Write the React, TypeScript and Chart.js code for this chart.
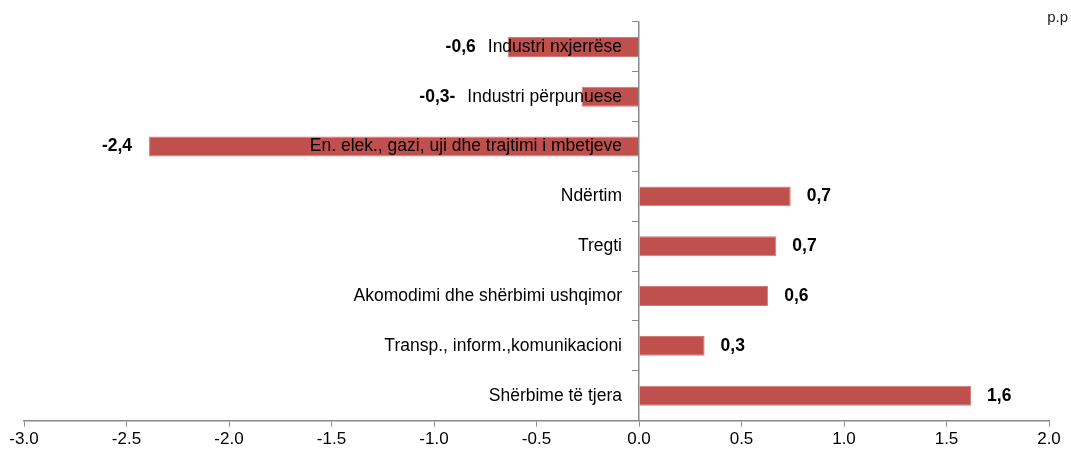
import React, { useEffect, useRef } from 'react';
import { Chart, registerables } from 'chart.js';

Chart.register(...registerables);

const categories = [
  'Industri nxjerrëse',
  'Industri përpunuese',
  'En. elek., gazi, uji dhe trajtimi i mbetjeve',
  'Ndërtim',
  'Tregti',
  'Akomodimi dhe shërbimi ushqimor',
  'Transp., inform.,komunikacioni',
  'Shërbime të tjera',
];
const values = [-0.64, -0.28, -2.39, 0.74, 0.67, 0.63, 0.32, 1.62];
const valueLabels = ['-0,6', '-0,3-', '-2,4', '0,7', '0,7', '0,6', '0,3', '1,6'];
const xMin = -3;
const xMax = 2;
const xStep = 0.5;
const unitLabel = 'p.p';

const FONT = "'Liberation Sans', Arial, sans-serif";
const BAR_COLOR = '#C0504D';
const AXIS_COLOR = '#8a8a8a';
const Y_TICK_LEN = 6;
const Y_LABEL_GAP = 17;
const Y_FONT_SIZE = 17.5;

const labelPlugin = {
  id: 'labels',
  afterDatasetsDraw(chart: any) {
    const ctx = chart.ctx;
    const meta = chart.getDatasetMeta(0);
    const xScale = chart.scales.x;
    const yScale = chart.scales.y;
    const zeroPx = xScale.getPixelForValue(0);
    ctx.save();
    // category labels (on top of the bars, right-aligned at the zero axis)
    ctx.font = `${Y_FONT_SIZE}px ${FONT}`;
    ctx.fillStyle = '#000';
    ctx.textBaseline = 'middle';
    ctx.textAlign = 'right';
    const catWidths: number[] = [];
    categories.forEach((c, i) => {
      catWidths.push(ctx.measureText(c).width);
      ctx.fillText(c, zeroPx - Y_LABEL_GAP, yScale.getPixelForTick(i));
    });
    // value labels
    ctx.font = `bold 17.5px ${FONT}`;
    meta.data.forEach((bar: any, i: number) => {
      const v = values[i];
      const y = bar.y;
      if (v >= 0) {
        ctx.textAlign = 'left';
        ctx.fillText(valueLabels[i], bar.x + 16, y);
      } else {
        const catLeft = zeroPx - Y_LABEL_GAP - catWidths[i];
        const x = Math.min(bar.x - 17, catLeft - 12);
        ctx.textAlign = 'right';
        ctx.fillText(valueLabels[i], x, y);
      }
    });
    ctx.font = `15px ${FONT}`;
    ctx.textAlign = 'right';
    ctx.fillStyle = '#222';
    ctx.fillText(unitLabel, chart.width - 3, 18);
    ctx.restore();
  },
};

export default function App() {
  const canvasRef = useRef<HTMLCanvasElement>(null);

  useEffect(() => {
    if (!canvasRef.current) return;
    const chart = new Chart(canvasRef.current, {
      type: 'bar',
      data: {
        labels: categories,
        datasets: [
          {
            data: values,
            backgroundColor: BAR_COLOR,
            borderColor: '#d27a77',
            borderWidth: 1,
            barPercentage: 0.4,
            categoryPercentage: 1,
          },
        ],
      },
      options: {
        indexAxis: 'y',
        animation: false,
        responsive: true,
        maintainAspectRatio: false,
        layout: { padding: { left: 24, right: 22, top: 22, bottom: 6 } },
        plugins: {
          legend: { display: false },
          tooltip: { enabled: false },
        },
        scales: {
          x: {
            type: 'linear',
            min: xMin,
            max: xMax,
            ticks: {
              stepSize: xStep,
              callback: (v: any) => Number(v).toFixed(1),
              font: { family: FONT, size: 17 },
              color: '#000',
              padding: 3,
            },
            grid: {
              drawOnChartArea: false,
              drawTicks: true,
              tickLength: 6,
              color: AXIS_COLOR,
            },
            border: { color: AXIS_COLOR, width: 1.5 },
          },
          y: {
            type: 'category',
            position: { x: 0 } as any,
            ticks: {
              display: false,
              autoSkip: false,
            },
            grid: {
              offset: true,
              drawOnChartArea: false,
              drawTicks: true,
              tickLength: Y_TICK_LEN,
              color: AXIS_COLOR,
            },
            border: { color: AXIS_COLOR, width: 1.5, z: 1 },
          },
        },
      },
      plugins: [labelPlugin],
    });
    return () => chart.destroy();
  }, []);

  return (
    <div style={{ position: 'fixed', left: 0, top: 0, width: 1071, height: 459, background: '#fff' }}>
      <canvas ref={canvasRef} />
    </div>
  );
}
